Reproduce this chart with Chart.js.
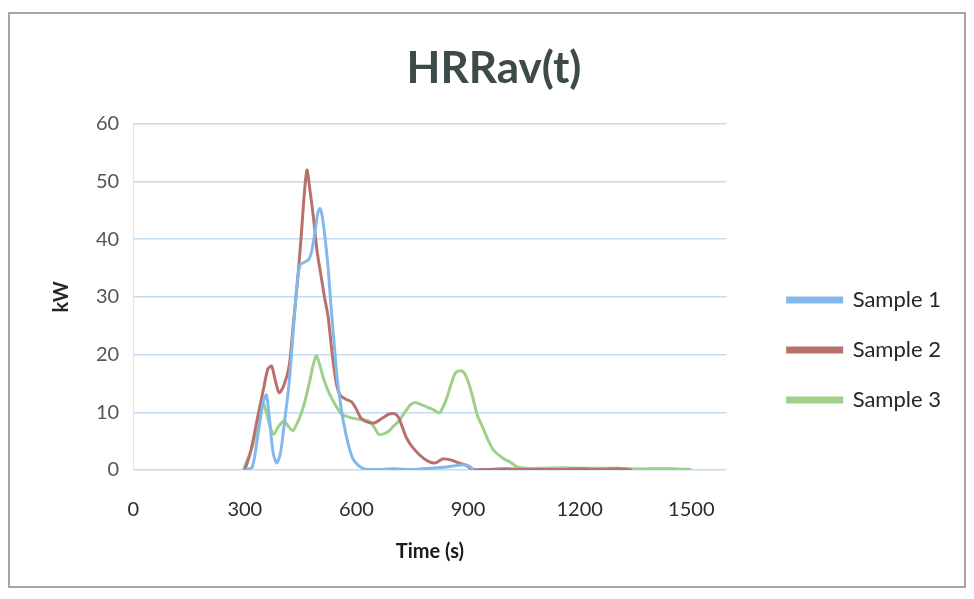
<!DOCTYPE html>
<html>
<head>
<meta charset="utf-8">
<script src="https://cdn.jsdelivr.net/npm/chart.js@4.4.1/dist/chart.umd.min.js"></script>
<style>
  html, body { margin: 0; padding: 0; background: #ffffff; }
  #frame { position: absolute; left: 8px; top: 12px; width: 958px; height: 576px; border: 2px solid #a6a6a6; box-sizing: border-box; }
  #wrap { position: absolute; left: 0; top: 0; width: 974px; height: 599px; }
</style>
</head>
<body>
<div id="frame"></div>
<div id="wrap"><canvas id="c" width="974" height="599"></canvas></div>
<script>
const xTicks = [0, 300, 600, 900, 1200, 1500];
const yTicks = [0, 10, 20, 30, 40, 50, 60];
const seriesNames = ['Sample 1', 'Sample 2', 'Sample 3'];

const s1Time = [300, 320, 335, 350, 358, 366, 376, 386, 396, 408, 419, 430, 440, 448, 460, 472, 480, 488, 496, 502, 508, 516, 524, 532, 540, 548, 556, 566, 578, 590, 605, 622, 650, 700, 750, 800, 840, 870, 890, 905, 915];
const s1Vals = [0, 0.5, 6, 12, 13, 9, 3, 1.2, 3, 9, 15, 24, 32, 35.5, 36, 36.5, 38, 41, 44.5, 45.3, 44, 40, 35, 28, 22, 16, 12, 8, 4.5, 2, 0.8, 0.2, 0.1, 0.2, 0.1, 0.3, 0.5, 0.8, 0.9, 0.6, 0];

const s2Time = [300, 315, 334, 350, 362, 372, 382, 392, 404, 419, 430, 442, 452, 460, 467, 474, 484, 494, 504, 514, 524, 535, 546, 556, 570, 587, 600, 612, 630, 650, 670, 688, 705, 714, 723, 735, 750, 770, 790, 810, 832, 850, 877, 895, 913, 950, 1000, 1050, 1100, 1150, 1200, 1250, 1300, 1340];
const s2Vals = [0, 3, 9, 14, 17.5, 18, 15.5, 13.4, 14.5, 18, 25, 33, 41, 48, 52, 49, 44, 38, 34, 30, 26.5, 20, 15, 13, 12.3, 11.8, 10.5, 9, 8.3, 8.2, 9, 9.7, 9.7, 9, 7.5, 5.5, 4, 2.6, 1.6, 1.2, 1.9, 1.8, 1.2, 0.8, 0.1, 0.1, 0.2, 0.1, 0.1, 0.1, 0.2, 0.1, 0.2, 0];

const s3Time = [296, 320, 335, 348, 358, 368, 378, 390, 405, 418, 429, 440, 451, 462, 473, 483, 492, 500, 511, 522, 533, 546, 560, 578, 595, 615, 633, 647, 660, 675, 688, 700, 714, 730, 745, 758, 775, 790, 805, 823, 840, 855, 867, 880, 890, 902, 913, 925, 940, 955, 968, 986, 1000, 1013, 1030, 1057, 1100, 1150, 1200, 1250, 1300, 1350, 1400, 1450, 1500];
const s3Vals = [0, 4, 8, 11.7, 10, 7.5, 6.2, 7.5, 8.5, 7.5, 6.8, 8, 9.7, 12, 15, 18, 19.8, 18.5, 16, 14, 12.5, 11, 9.7, 9.2, 8.9, 8.7, 8.5, 7.5, 6.2, 6.3, 6.8, 7.6, 8.5, 10, 11.3, 11.7, 11.3, 10.9, 10.5, 9.9, 12, 15, 16.9, 17.2, 16.8, 15, 12.5, 9.5, 7.3, 5, 3.5, 2.4, 1.8, 1.4, 0.6, 0.3, 0.3, 0.4, 0.3, 0.3, 0.3, 0.2, 0.2, 0.2, 0.1];

const colors = ['#84b8ec', '#b9716d', '#9fd08a'];

function pts(t, v) { return t.map((x, i) => ({ x: x, y: v[i] })); }

const datasets = [
  { label: seriesNames[0], data: pts(s1Time, s1Vals) },
  { label: seriesNames[1], data: pts(s2Time, s2Vals) },
  { label: seriesNames[2], data: pts(s3Time, s3Vals) }
].map((d, i) => Object.assign(d, {
  borderColor: colors[i], backgroundColor: colors[i], borderWidth: 3,
  pointRadius: 0, tension: 0.25, fill: false
}));

const FONT = 'Lato, "Open Sans", sans-serif';

// nudges the library's legend and title boxes to where the reference places them
const boxShift = {
  id: 'boxShift',
  afterLayout(chart) {
    const lg = chart.legend;
    if (lg) { lg.left += 33; lg.right += 33; lg.top += 68; lg.bottom += 68; }
    const tb = chart.titleBlock;
    if (tb) { tb.left += 12; tb.right += 12; }
  }
};

new Chart(document.getElementById('c'), {
  type: 'line',
  data: { datasets: datasets },
  plugins: [boxShift],
  options: {
    responsive: false,
    animation: false,
    layout: { padding: { left: 46, right: 56, top: 0, bottom: 35 } },
    plugins: {
      title: {
        display: true, text: 'HRRav(t)', color: '#3d4a4a',
        font: { family: FONT, size: 44, weight: 'bold' },
        padding: { top: 42, bottom: 29 }
      },
      legend: {
        display: true, position: 'right', align: 'center',
        labels: {
          boxWidth: 54, boxHeight: 4, padding: 28, color: '#262626',
          font: { family: FONT, size: 22 }
        }
      },
      tooltip: { enabled: false }
    },
    scales: {
      x: {
        type: 'linear', min: 0, max: 1595,
        afterBuildTicks: (s) => { s.ticks = xTicks.map(v => ({ value: v })); },
        grid: { display: false },
        border: { display: false },
        ticks: { color: '#2a2a2a', padding: 20, maxRotation: 0, font: { family: FONT, size: 20 }, callback: (v) => String(v) },
        title: { display: true, text: 'Time (s)', color: '#1a1a1a', padding: { top: -2, bottom: 0 }, font: { family: FONT, size: 20, weight: 'bold' } }
      },
      y: {
        min: 0, max: 60,
        afterBuildTicks: (s) => { s.ticks = yTicks.map(v => ({ value: v })); },
        grid: { color: '#c4dbf1', lineWidth: 1.5, drawTicks: false },
        border: { display: true, color: '#dbe6f1', width: 1 },
        ticks: { color: '#555555', padding: 14, font: { family: FONT, size: 20 } },
        title: { display: true, text: 'kW', color: '#262626', padding: { bottom: 8 }, font: { family: FONT, size: 20, weight: 'bold' } }
      }
    }
  }
});
</script>
</body>
</html>
